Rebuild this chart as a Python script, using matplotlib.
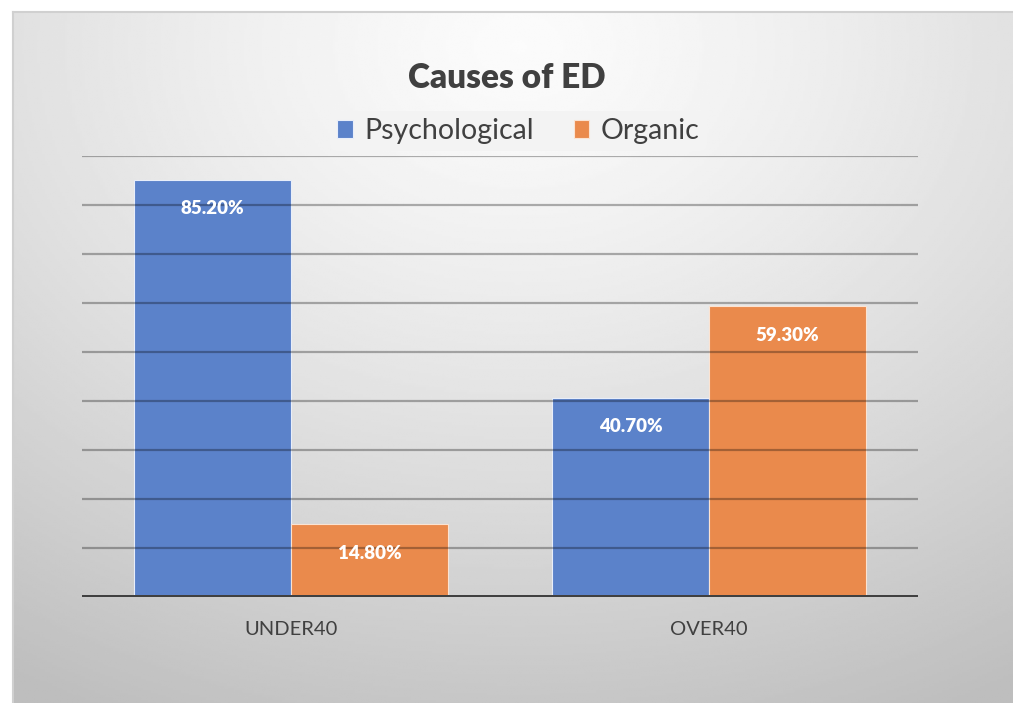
import numpy as np
import matplotlib
import matplotlib.pyplot as plt

matplotlib.rcParams['font.family'] = ['Lato', 'DejaVu Sans']

groups = ['UNDER40', 'OVER40']
series = ['Psychological', 'Organic']
psychological = [85.2, 40.7]
organic = [14.8, 59.3]
colors = ['#5b82ca', '#ea8a4c']

fig = plt.figure(figsize=(10.13, 7.03), dpi=100)
fig.patch.set_facecolor('white')

# gradient background of the chart area
bg = fig.add_axes([13 / 1013, -0.01, 1 - 13 / 1013 + 0.01, 1 - 12 / 703 + 0.01])
yy, xx = np.mgrid[0:1:300j, 0:1:400j]
d = np.sqrt(((xx - 0.5) * 1.0) ** 2 + ((yy - 0.05) * 0.9) ** 2)
shade = 0.985 - 0.24 * np.clip(d / 0.95, 0, 1) ** 1.3
bg.imshow(shade, cmap='gray', vmin=0, vmax=1, aspect='auto', extent=[0, 1, 1, 0])
bg.set_xticks([])
bg.set_yticks([])
for s in bg.spines.values():
    s.set_color('#d0d0d0')
    s.set_linewidth(1.5)

ax = fig.add_axes([82 / 1013, 1 - 597 / 703, 836 / 1013, (597 - 156) / 703])
ax.patch.set_alpha(0)

x = np.arange(len(groups))
w = 0.376
b1 = ax.bar(x - w / 2, psychological, w, color=colors[0], edgecolor='#e8eefa',
            linewidth=0.8, label=series[0], zorder=2)
b2 = ax.bar(x + w / 2, organic, w, color=colors[1], edgecolor='#fbe3d2',
            linewidth=0.8, label=series[1], zorder=2)

for bars in (b1, b2):
    for r in bars:
        ax.annotate('%.2f%%' % r.get_height(), (r.get_x() + r.get_width() / 2, r.get_height()),
                    xytext=(0, -29), textcoords='offset pixels',
                    ha='center', va='center', color='white', fontsize=13.5, fontweight='heavy',
                    zorder=4)

ax.set_xlim(-0.5, 1.5)
ax.set_ylim(0, 90)
for v in range(10, 91, 10):
    ax.axhline(v, color='black', alpha=0.3, linewidth=1.6, zorder=3)
ax.axhline(0, color='#404040', linewidth=3.6, zorder=4)

ax.set_xticks(x)
ax.set_xticklabels(groups, fontsize=14.5, color='#404040')
ax.tick_params(axis='x', length=0, pad=17)
ax.set_yticks([])
for s in ax.spines.values():
    s.set_visible(False)

fig.text(0.5, 1 - 78 / 703, 'Causes of ED', ha='center', va='center',
         fontsize=24, fontweight='heavy', color='#404040')
leg = ax.legend(loc='center', bbox_to_anchor=(0.522, (597 - 131) / (597 - 156)),
                bbox_transform=ax.transAxes, ncol=2, frameon=True, fontsize=20.5,
                handlelength=0.55, handleheight=0.55, handletextpad=0.4, columnspacing=1.4,
                borderpad=0.25, labelcolor='#404040')
leg.get_frame().set_facecolor('#f3f3f3')
leg.get_frame().set_edgecolor('none')
leg.get_frame().set_alpha(1)
leg.set_zorder(5)

fig.savefig('out.png', dpi=100, facecolor=fig.get_facecolor())
